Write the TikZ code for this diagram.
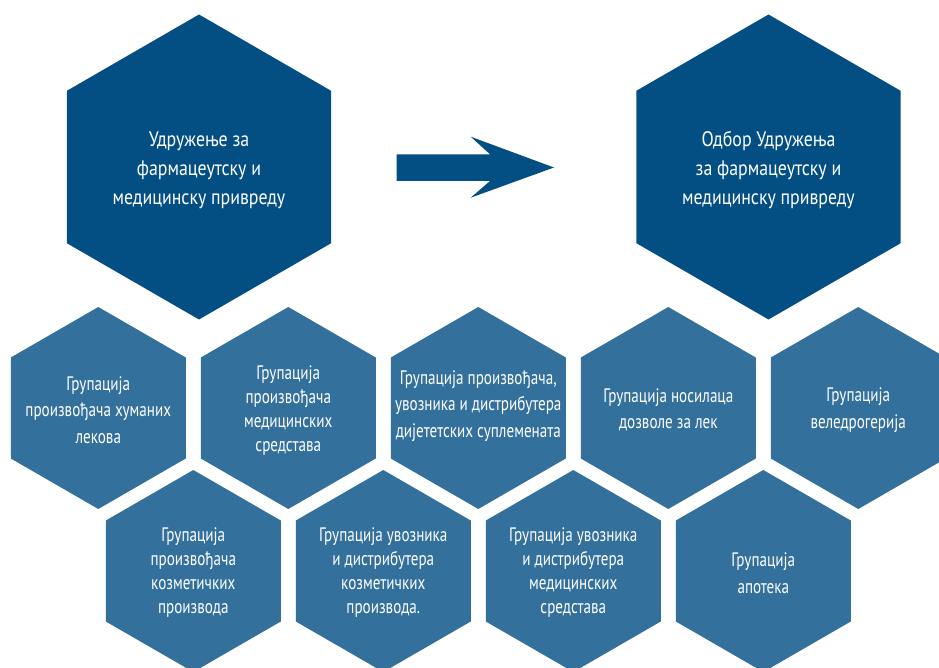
\documentclass[tikz,border=0pt]{standalone}
\usepackage{fontspec}
\newfontfamily\hexfont{PT Sans}[FakeStretch=0.85]
\newfontfamily\hexfontsmall{PT Sans}[FakeStretch=0.775]
\definecolor{darkhex}{RGB}{3,79,132}
\definecolor{lighthex}{RGB}{51,112,155}
\newcommand\hexfill[4]{% x, y, radius, colour
  \fill[#4] (#1,#2) +(90:#3) -- +(30:#3) -- +(-30:#3) -- +(-90:#3) -- +(-150:#3) -- +(150:#3) -- cycle;}
\begin{document}
\begin{tikzpicture}[x=1pt,y=-1pt,
  bigtext/.style={text=white,align=center,font=\hexfont\fontsize{21}{29}\selectfont,inner sep=0pt},
  smalltext/.style={text=white,align=center,font=\hexfontsmall\fontsize{19.5}{26.5}\selectfont,inner sep=0pt},
  smalltextb/.style={smalltext,font=\hexfontsmall\fontsize{19.5}{24}\selectfont}]
\useasboundingbox (0,0) rectangle (939,668);
\clip (0,0) rectangle (939,668);
% big hexagons
\hexfill{199}{167}{152.5}{darkhex}
\hexfill{768.5}{167}{152.5}{darkhex}
\node[bigtext] (assoc) at (199,170) {Удружење за\\фармацеутску и\\медицинску привреду};
\node[bigtext] (board) at (768.5,170) {Одбор Удружења\\за фармацеутску и\\медицинску привреду};
% arrow
\fill[darkhex] (396.7,154.3) -- (490,154.3) -- (470.7,136.7) -- (554,167.5) -- (470.7,197.7) -- (490,181) -- (396.7,181) -- cycle;
% row 1
\foreach \cx in {98.3,288.3,478.3,668.3,858.3}{\hexfill{\cx}{408}{101}{lighthex}}
% row 2
\foreach \cx in {193.3,383.3,573.3,763.3}{\hexfill{\cx}{571}{101}{lighthex}}
\node[smalltext] (g1) at (98.3,410) {Групација\\произвођача хуманих\\лекова};
\node[smalltextb] (g2) at (288.3,411) {Групација\\произвођача\\медицинских\\средстава};
\node[smalltext] (g3) at (478.3,406) {Групација произвођача,\\увозника и дистрибутера\\дијететских суплемената};
\node[smalltext] (g4) at (668.3,410) {Групација носилаца\\дозволе за лек};
\node[smalltext] (g5) at (858.3,410) {Групација\\веледрогерија};
\node[smalltextb] (g6) at (193.3,573) {Групација\\произвођача\\козметичких\\производа};
\node[smalltextb] (g7) at (383.3,573) {Групација увозника\\и дистрибутера\\козметичких\\производа.};
\node[smalltextb] (g8) at (573.3,573) {Групација увозника\\и дистрибутера\\медицинских\\средстава};
\node[smalltext] (g9) at (763.3,573) {Групација\\апотека};
\end{tikzpicture}
\end{document}
